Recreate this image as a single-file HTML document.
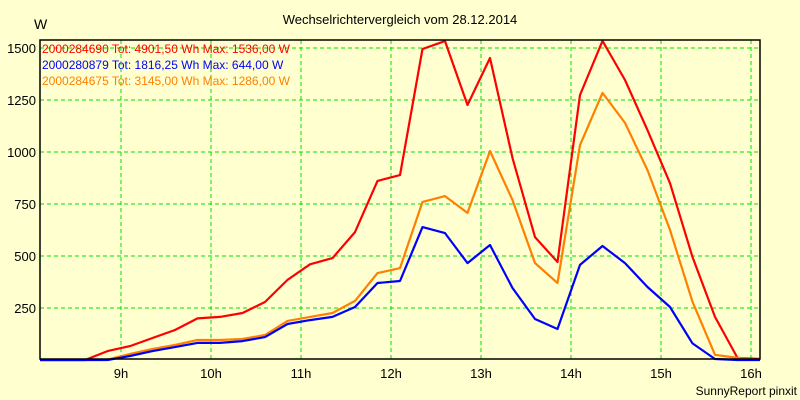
<!DOCTYPE html>
<html><head><meta charset="utf-8"><style>
body{margin:0;background:#ffffd0;}
svg{display:block;font-family:"Liberation Sans",sans-serif;}
</style></head><body>
<svg id="chart" width="800" height="400" viewBox="0 0 800 400">
<rect x="0" y="0" width="800" height="400" fill="#ffffd0"/>
<text x="400" y="24" text-anchor="middle" font-size="13" fill="#000">Wechselrichtervergleich vom 28.12.2014</text>
<text x="34" y="29" font-size="14" fill="#000">W</text>
<text x="797" y="395" text-anchor="end" font-size="12" fill="#000">SunnyReport pinxit</text>
<g id="grid"></g>
<g id="axes"></g>
<g id="series"></g>
<rect x="40" y="40" width="720" height="319" fill="none" stroke="#000" stroke-width="1.5"/>
<g id="legend" font-size="12">
<text x="42" y="53" fill="#ff0000">2000284690 Tot: 4901,50 Wh Max: 1536,00 W</text>
<text x="42" y="69" fill="#0000ff">2000280879 Tot: 1816,25 Wh Max: 644,00 W</text>
<text x="42" y="85" fill="#ff8000">2000284675 Tot: 3145,00 Wh Max: 1286,00 W</text>
</g>
</svg>
<script>
const startHour = 8.1;
const stepHours = 0.25;
const yTicks = [250, 500, 750, 1000, 1250, 1500];
const xTickHours = [9, 10, 11, 12, 13, 14, 15, 16];
const xTickLabels = ["9h", "10h", "11h", "12h", "13h", "14h", "15h", "16h"];
const redValues = [0,0,0,43,67,106,144,200,207,226,279,385,460,490,615,861,889,1495,1533,1226,1452,971,591,471,1274,1534,1346,1105,850,495,207,10,5];
const orangeValues = [0,0,0,2,29,53,72,96,96,101,120,188,207,226,284,418,442,760,788,707,1005,769,466,370,1033,1284,1140,913,625,280,25,10,0];
const blueValues = [0,0,0,0,19,43,62,82,82,91,110,173,192,207,255,370,380,639,610,466,553,346,197,149,457,548,466,351,255,80,5,0,0];

const NS = "http://www.w3.org/2000/svg";
const xOf = h => 121 + (h - 9) * 90;
const yOf = v => 360 - v * 0.208;
const grid = document.getElementById("grid");
const axes = document.getElementById("axes");
const series = document.getElementById("series");

yTicks.forEach(v => {
  const l = document.createElementNS(NS, "line");
  l.setAttribute("x1", 40); l.setAttribute("x2", 760);
  l.setAttribute("y1", yOf(v)); l.setAttribute("y2", yOf(v));
  l.setAttribute("stroke", "#00e000"); l.setAttribute("stroke-dasharray", "4,3");
  
  
  grid.appendChild(l);
  const t = document.createElementNS(NS, "text");
  t.setAttribute("x", 36); t.setAttribute("y", yOf(v) + 5);
  t.setAttribute("text-anchor", "end"); t.setAttribute("font-size", "13");
  t.textContent = v;
  
  
  axes.appendChild(t);
});
xTickHours.forEach((h, i) => {
  const l = document.createElementNS(NS, "line");
  l.setAttribute("x1", xOf(h)); l.setAttribute("x2", xOf(h));
  l.setAttribute("y1", 40); l.setAttribute("y2", 359);
  l.setAttribute("stroke", "#00e000"); l.setAttribute("stroke-dasharray", "4,3");
  
  
  grid.appendChild(l);
  const t = document.createElementNS(NS, "text");
  t.setAttribute("x", xOf(h)); t.setAttribute("y", 378);
  t.setAttribute("text-anchor", "middle"); t.setAttribute("font-size", "13");
  t.textContent = xTickLabels[i];
  
  
  axes.appendChild(t);
});
function drawLine(vals, color, name) {
  const p = document.createElementNS(NS, "polyline");
  p.setAttribute("points", vals.map((v, k) => xOf(startHour + k * stepHours).toFixed(1) + "," + yOf(v).toFixed(1)).join(" "));
  p.setAttribute("fill", "none"); p.setAttribute("stroke", color);
  p.setAttribute("stroke-width", "2.2"); p.setAttribute("stroke-linejoin", "round");
  
  
  series.appendChild(p);
}
drawLine(redValues, "#ff0000", "series-2000284690");
drawLine(orangeValues, "#ff8000", "series-2000284675");
drawLine(blueValues, "#0000ff", "series-2000280879");
</script>
</body></html>
